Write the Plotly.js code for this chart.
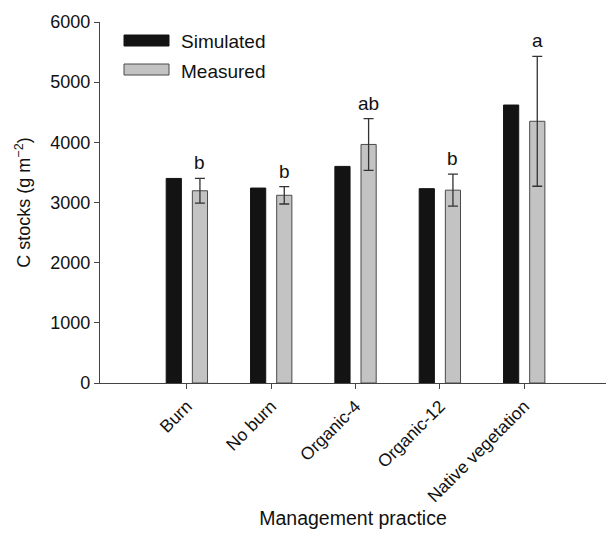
<!DOCTYPE html>
<html><head><meta charset="utf-8">
<script src="https://cdn.plot.ly/plotly-3.0.1.min.js"></script>
<style>html,body{margin:0;padding:0;background:#fff}#chart{width:606px;height:533px}</style>
</head><body><div id="chart"></div>
<script>
const categories = ["Burn", "No burn", "Organic-4", "Organic-12", "Native vegetation"];
const simulated = [3400, 3240, 3600, 3230, 4620];
const measured = [3195, 3120, 3965, 3205, 4350];
const measuredErr = [205, 145, 430, 265, 1080];
const letters = ["b", "b", "ab", "b", "a"];
const seriesNames = ["Simulated", "Measured"];

const idx = categories.map((_, i) => i);
const font = "Liberation Sans, Arial, sans-serif";

const W = 606, H = 533, mL = 100, mR = 0, mT = 22, mB = 150;
const pw = W - mL - mR, ph = H - mT - mB;
function px(x) { return (x - mL) / pw; }
function py(y) { return (H - mB - y) / ph; }

const traces = [
  {type: "bar", name: seriesNames[0], x: idx, y: simulated, width: 0.18, offset: -0.245,
   marker: {color: "#131313", line: {color: "#131313", width: 1}}, showlegend: false},
  {type: "bar", name: seriesNames[1], x: idx, y: measured, width: 0.18, offset: 0.065,
   marker: {color: "#c3c3c3", line: {color: "#4a4a4a", width: 1}},
   error_y: {type: "data", array: measuredErr, visible: true, color: "#333", thickness: 1.3, width: 5},
   showlegend: false}
];

const annotations = letters.map((t, i) => ({
  x: i + 0.155, y: measured[i] + measuredErr[i] + 50, xref: "x", yref: "y",
  text: t, showarrow: false, yanchor: "bottom", font: {family: font, size: 19, color: "#111"}
}));
annotations.push(
  {x: px(179), y: py(41), xref: "paper", yref: "paper", xanchor: "left", yanchor: "middle",
   text: seriesNames[0], showarrow: false, font: {family: font, size: 19, color: "#111"}},
  {x: px(179), y: py(71), xref: "paper", yref: "paper", xanchor: "left", yanchor: "middle",
   text: seriesNames[1], showarrow: false, font: {family: font, size: 19, color: "#111"}}
);

const shapes = [
  {type: "rect", xref: "paper", yref: "paper", x0: px(124), x1: px(169), y0: py(35), y1: py(46),
   fillcolor: "#131313", line: {color: "#131313", width: 1}},
  {type: "rect", xref: "paper", yref: "paper", x0: px(124), x1: px(169), y0: py(64), y1: py(75),
   fillcolor: "#c3c3c3", line: {color: "#4a4a4a", width: 1}}
];

const layout = {
  width: W, height: H,
  margin: {l: mL, r: mR, t: mT, b: mB},
  paper_bgcolor: "#fff", plot_bgcolor: "#fff",
  font: {family: font, size: 18, color: "#111"},
  bargap: 0,
  xaxis: {
    range: [-1.03, 4.97], tickmode: "array", tickvals: idx, ticktext: categories,
    tickangle: -45, ticks: "outside", ticklen: 5, tickcolor: "#444",
    showline: true, linecolor: "#444", linewidth: 1.2, showgrid: false, zeroline: false,
    tickfont: {family: font, size: 17.5, color: "#111"},
    title: {text: "Management practice", font: {family: font, size: 19.5, color: "#111"}, standoff: 6}
  },
  yaxis: {
    range: [0, 6000], tickvals: [0, 1000, 2000, 3000, 4000, 5000, 6000],
    ticks: "outside", ticklen: 5, tickcolor: "#444",
    showline: true, linecolor: "#444", linewidth: 1.2, showgrid: false, zeroline: false,
    tickfont: {family: font, size: 18, color: "#111"},
    title: {text: "C stocks (g m<sup>\u22122</sup>)", font: {family: font, size: 18, color: "#111"}, standoff: 14}
  },
  annotations: annotations,
  shapes: shapes,
  showlegend: false
};

Plotly.newPlot("chart", traces, layout, {displayModeBar: false, staticPlot: true});
</script></body></html>
